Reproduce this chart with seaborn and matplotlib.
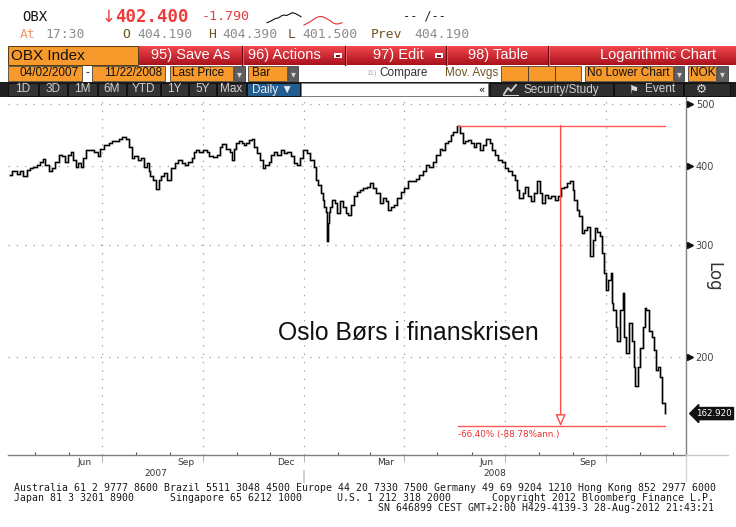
import numpy as np
import pandas as pd
import matplotlib
matplotlib.use("Agg")
import matplotlib.pyplot as plt
import matplotlib.transforms as mtransforms
import matplotlib.ticker as mticker
import matplotlib.dates as mdates
from matplotlib.patches import Rectangle
from matplotlib.lines import Line2D
import seaborn as sns

# ---------------- data ----------------
price_dates = [
    "2007-04-08", "2007-04-13", "2007-04-16", "2007-04-19", "2007-04-22", "2007-04-25", "2007-04-28",
    "2007-05-01", "2007-05-04", "2007-05-07", "2007-05-09", "2007-05-12", "2007-05-15", "2007-05-18",
    "2007-05-21", "2007-05-24", "2007-05-27", "2007-05-30", "2007-06-02", "2007-06-04", "2007-06-06",
    "2007-06-08", "2007-06-11", "2007-06-13", "2007-06-15", "2007-06-17", "2007-06-21", "2007-06-26",
    "2007-06-28", "2007-06-30", "2007-07-05", "2007-07-09", "2007-07-12", "2007-07-15", "2007-07-18",
    "2007-07-21", "2007-07-24", "2007-07-27", "2007-07-29", "2007-08-01", "2007-08-04", "2007-08-07",
    "2007-08-09", "2007-08-12", "2007-08-13", "2007-08-15", "2007-08-18", "2007-08-21", "2007-08-23",
    "2007-08-25", "2007-08-28", "2007-08-31", "2007-09-04", "2007-09-07", "2007-09-10", "2007-09-13",
    "2007-09-16", "2007-09-19", "2007-09-22", "2007-09-23", "2007-09-26", "2007-09-29", "2007-10-03",
    "2007-10-05", "2007-10-08", "2007-10-12", "2007-10-15", "2007-10-17", "2007-10-20", "2007-10-24",
    "2007-10-26", "2007-10-28", "2007-10-30", "2007-11-01", "2007-11-04", "2007-11-06", "2007-11-08",
    "2007-11-10", "2007-11-13", "2007-11-15", "2007-11-17", "2007-11-20", "2007-11-23", "2007-11-25",
    "2007-11-28", "2007-12-01", "2007-12-03", "2007-12-06", "2007-12-09", "2007-12-12", "2007-12-15",
    "2007-12-18", "2007-12-21", "2007-12-24", "2007-12-27", "2007-12-29",
    "2008-01-02", "2008-01-05", "2008-01-08", "2008-01-11", "2008-01-12", "2008-01-15", "2008-01-17",
    "2008-01-18", "2008-01-20", "2008-01-21", "2008-01-22", "2008-01-23", "2008-01-24", "2008-01-25",
    "2008-01-27", "2008-01-30", "2008-02-01", "2008-02-04", "2008-02-07", "2008-02-09", "2008-02-11",
    "2008-02-14", "2008-02-16", "2008-02-19", "2008-02-22", "2008-02-25", "2008-02-28", "2008-03-02",
    "2008-03-05", "2008-03-08", "2008-03-11", "2008-03-14", "2008-03-16", "2008-03-18", "2008-03-21",
    "2008-03-24", "2008-03-27", "2008-03-30", "2008-04-03", "2008-04-06", "2008-04-10", "2008-04-13",
    "2008-04-16", "2008-04-19", "2008-04-22", "2008-04-25", "2008-04-28", "2008-05-02", "2008-05-04",
    "2008-05-06", "2008-05-09", "2008-05-12", "2008-05-14", "2008-05-17", "2008-05-20", "2008-05-23",
    "2008-05-25", "2008-05-27", "2008-05-30", "2008-06-02", "2008-06-04", "2008-06-07", "2008-06-10",
    "2008-06-13", "2008-06-16", "2008-06-19", "2008-06-21", "2008-06-24", "2008-06-27", "2008-06-30",
    "2008-07-03", "2008-07-06", "2008-07-09", "2008-07-12", "2008-07-13", "2008-07-16", "2008-07-19",
    "2008-07-21", "2008-07-24", "2008-07-26", "2008-07-29", "2008-08-01", "2008-08-03", "2008-08-05",
    "2008-08-08", "2008-08-11", "2008-08-14", "2008-08-17", "2008-08-20", "2008-08-23", "2008-08-26",
    "2008-08-28", "2008-08-31", "2008-09-02", "2008-09-03", "2008-09-06", "2008-09-08", "2008-09-10",
    "2008-09-13", "2008-09-15", "2008-09-18", "2008-09-20", "2008-09-22", "2008-09-25", "2008-09-27",
    "2008-09-29", "2008-09-30", "2008-10-02", "2008-10-05", "2008-10-06", "2008-10-07", "2008-10-09",
    "2008-10-11", "2008-10-12", "2008-10-16", "2008-10-17", "2008-10-18", "2008-10-21", "2008-10-23",
    "2008-10-26", "2008-10-27", "2008-10-29", "2008-11-01", "2008-11-02", "2008-11-05", "2008-11-06",
    "2008-11-07", "2008-11-12", "2008-11-13", "2008-11-15", "2008-11-17", "2008-11-18", "2008-11-20",
    "2008-11-23", "2008-11-24",
]
price_values = [
    387, 392, 389, 393, 386, 394, 397,
    399, 401, 406, 410, 401, 392, 397,
    406, 416, 414, 406, 416, 420, 409,
    399, 404, 399, 411, 424, 424, 420,
    414, 426, 432, 434, 437, 438, 441,
    444, 441, 429, 411, 414, 409, 411,
    399, 404, 392, 385, 380, 368, 380,
    385, 390, 380, 397, 404, 409, 404,
    401, 406, 411, 421, 423, 421, 424,
    421, 414, 413, 416, 429, 433, 426,
    421, 409, 426, 434, 438, 435, 432,
    435, 440, 441, 429, 419, 409, 397,
    401, 406, 416, 421, 416, 424, 419,
    420, 414, 404, 401, 411,
    424, 419, 409, 399, 380, 373, 362,
    354, 345, 338, 305, 325, 338, 345,
    354, 350, 337, 352, 345, 337, 335,
    347, 358, 364, 367, 369, 371, 376,
    369, 362, 350, 356, 352, 341, 345,
    347, 356, 364, 369, 378, 378, 382,
    387, 392, 402, 399, 406, 416, 426,
    424, 434, 437, 448, 453, 463, 450,
    434, 437, 440, 434, 429, 434, 424,
    432, 441, 434, 424, 416, 409, 406,
    397, 392, 387, 380, 367, 356, 362,
    371, 358, 352, 362, 378, 362, 350,
    360, 356, 358, 354, 358, 369, 371,
    376, 378, 367, 354, 341, 333, 314,
    317, 321, 288, 306, 319, 315, 310,
    292, 271, 255, 264, 271, 243, 237,
    223, 212, 237, 252, 215, 203, 226,
    212, 193, 180, 193, 207, 223, 239,
    237, 220, 215, 205, 191, 193, 186,
    169, 163,
]

peak_date = "2008-05-20"
peak_value = 463.0
trough_value = 155.6
end_date = "2008-11-24"
measure_date = "2008-08-21"
change_label = "-66.40% (-88.78%ann.)"
last_price = 162.92
last_price_label = "162.920"
chart_title = "Oslo Børs i finanskrisen"

y_ticks = [200, 300, 400, 500]
quarter_starts = ["2007-07-01", "2007-10-01", "2008-01-01", "2008-04-01", "2008-07-01", "2008-10-01"]
month_labels = ["Jun", "Sep", "Dec", "Mar", "Jun", "Sep"]
month_label_dates = ["2007-06-15", "2007-09-15", "2007-12-15", "2008-03-15", "2008-06-15", "2008-09-15"]
year_labels = ["2007", "2008"]
year_start_2008 = "2008-01-01"
x_start, x_end = "2007-04-06 12:00", "2008-12-13"

spark_black = [7.3, 8.5, 10.0, 11.5, 12.0, 14.0, 15.0, 14.5, 16.0, 17.3, 16.5, 15.0, 13.3]
spark_red = [5.0, 6.5, 8.0, 10.0, 12.0, 13.3, 13.5, 12.5, 11.0, 9.3, 7.0, 6.0, 6.2, 7.3]

# ---------------- figure helpers (pixel layout of the screen) ----------------
W, H = 736, 527
fig = plt.figure(figsize=(W / 100, H / 100), dpi=100)
fig.patch.set_facecolor("white")

def fx(x):
    return x / W

def fy(y):
    return 1 - y / H

def rect(x0, y0, x1, y1, fc, ec="none", lw=0.0, z=1, aa=True):
    fig.add_artist(Rectangle((fx(x0), fy(y1)), fx(x1) - fx(x0), fy(y0) - fy(y1),
                             transform=fig.transFigure, fc=fc, ec=ec, lw=lw, zorder=z,
                             antialiased=aa))

def txt(x, y, s, **kw):
    kw.setdefault("va", "center")
    fig.text(fx(x), fy(y), s, **kw)

def hline(x0, x1, y, color, lw=1.0, z=3):
    fig.add_artist(Line2D([fx(x0), fx(x1)], [fy(y), fy(y)], transform=fig.transFigure,
                          color=color, lw=lw, zorder=z))

def vline(x, y0, y1, color, lw=1.0, z=3):
    fig.add_artist(Line2D([fx(x), fx(x)], [fy(y0), fy(y1)], transform=fig.transFigure,
                          color=color, lw=lw, zorder=z))

MONO = "DejaVu Sans Mono"
SANS = ["Liberation Sans", "DejaVu Sans"]
RED = "#EE3B3B"
ORANGE = "#F8992C"

# ---------------- header: quote lines ----------------
txt(22, 17, "OBX", family=MONO, fontsize=10, color="#111111")
txt(102, 17, "↓", family="DejaVu Sans", fontsize=12, color=RED)
txt(115, 17, "402.400", family=MONO, fontsize=12.5, color=RED, fontweight="bold")
txt(202, 17, "-1.790", family=MONO, fontsize=9.6, color=RED)
txt(403, 16, "-- /--", family=MONO, fontsize=8.6, color="#222222")

txt(20, 35, "At", family=MONO, fontsize=9.4, color="#F39A6A")
txt(45, 35, "17:30", family=MONO, fontsize=9.4, color="#8C8C8C")
for lab, xl, val, xv in [("O", 122, "404.190", 137), ("H", 208, "404.390", 222),
                         ("L", 288, "401.500", 302), ("Prev", 371, "404.190", 414)]:
    txt(xl, 35, lab, family=MONO, fontsize=9.4, color="#6E5320")
    txt(xv, 35, val, family=MONO, fontsize=9.4, color="#8C8C8C")

# sparkline
axs = fig.add_axes([fx(266), fy(27), fx(345) - fx(266), fy(8) - fy(27)])
sns.lineplot(x=np.arange(len(spark_black)) * 2.83, y=spark_black, ax=axs, color="#111111", lw=0.8)
sns.lineplot(x=37 + np.arange(len(spark_red)) * 2.92, y=spark_red, ax=axs, color="#E53030", lw=0.8)
axs.set_xlim(-1, 78)
axs.set_ylim(3, 22)
axs.axis("off")

# ---------------- toolbar row 1 ----------------
rect(8, 46, 138, 65, ORANGE, ec="#3a2400", lw=0.6, z=2)
txt(11, 55.5, "OBX Index", family=SANS, fontsize=11, color="#111111", zorder=5)
ct = np.array(matplotlib.colors.to_rgb("#F0464E"))
cb = np.array(matplotlib.colors.to_rgb("#A9121C"))
for i in range(19):
    t = i / 18
    rect(139, 46 + i, 736, 47.1 + i, tuple(ct * (1 - t) + cb * t), z=2, aa=False)
for xs in [242, 345, 446, 548]:
    vline(xs, 46, 65, "#6A0610", lw=0.8)
    vline(xs + 1, 46, 65, "#F07A82", lw=0.5)
txt(191, 55.5, "95) Save As", family=SANS, fontsize=10.5, color="white", ha="center", zorder=5)
txt(248, 55.5, "96) Actions", family=SANS, fontsize=10.5, color="white", zorder=5)
rect(334, 53, 342, 58, "white", z=4)
rect(336, 54.5, 340, 56.5, "#7a1018", z=5)
txt(373, 55.5, "97) Edit", family=SANS, fontsize=10.5, color="white", zorder=5)
rect(435, 53, 443, 58, "white", z=4)
rect(437, 54.5, 441, 56.5, "#7a1018", z=5)
txt(498, 55.5, "98) Table", family=SANS, fontsize=10.5, color="white", ha="center", zorder=5)
txt(716, 55.5, "Logarithmic Chart", family=SANS, fontsize=10.5, color="white", ha="right", zorder=5)

# ---------------- toolbar row 2 ----------------
def field(x0, x1, label, tx=None, color="#111111", size=8.5):
    rect(x0, 66, x1, 81, ORANGE, ec="#2a2a2a", lw=0.5, z=2)
    if label:
        txt(tx if tx is not None else x0 + 3, 73.5, label, family=SANS, fontsize=size,
            color=color, zorder=5)

def dropdown(x0, x1):
    rect(x0, 66, x1, 81, "#5E5E5E", ec="#2a2a2a", lw=0.5, z=2)
    txt((x0 + x1) / 2, 74, "▾", family="DejaVu Sans", fontsize=7, color="#D8D8D8",
        ha="center", zorder=5)

field(8, 82, "04/02/2007", tx=20)
txt(86, 73.5, "-", family=SANS, fontsize=8.5, color="#111111")
field(92, 165, "11/22/2008", tx=104)
field(170, 233, "Last Price", tx=172)
dropdown(234, 245)
field(248, 287, "Bar", tx=252)
dropdown(288, 298)
txt(366, 73.5, "11)", family=SANS, fontsize=5.5, color="#B0B0B0")
txt(379, 73.5, "Compare", family=SANS, fontsize=8.5, color="#333333")
txt(445, 73.5, "Mov. Avgs", family=SANS, fontsize=8.5, color="#6E5320")
field(501, 528, "")
field(528, 555, "")
field(555, 581, "")
field(585, 673, "No Lower Chart", tx=587)
dropdown(674, 684)
field(688, 716, "NOK", tx=690)
dropdown(717, 728)

# ---------------- toolbar row 3 ----------------
rect(0, 82, 736, 97, "#1E1E1E", z=1)
for lab, x0, x1 in [("1D", 8, 38), ("3D", 39, 67), ("1M", 68, 97), ("6M", 98, 126),
                    ("YTD", 127, 160), ("1Y", 161, 188), ("5Y", 189, 216), ("Max", 217, 246)]:
    rect(x0, 83, x1, 96, "#333333", ec="#0E0E0E", lw=0.6, z=2)
    txt((x0 + x1) / 2, 89.5, lab, family=SANS, fontsize=8.5, color="#CFCFCF", ha="center", zorder=5)
rect(247, 83, 300, 96, "#235C8E", ec="#0E0E0E", lw=0.6, z=2)
txt(252, 89.5, "Daily ▼", family=SANS, fontsize=8.5, color="#E6EEF6", zorder=5)
rect(301, 83, 488, 96, "white", ec="#777777", lw=0.5, z=2)
txt(481, 89.5, "«", family="DejaVu Sans", fontsize=7.5, color="#111111", ha="center", zorder=5)
rect(490, 83, 613, 96, "#2E2E2E", ec="#0E0E0E", lw=0.6, z=2)
fig.add_artist(Line2D([fx(504), fx(508), fx(511), fx(516)], [fy(94), fy(88), fy(91), fy(85)],
                      transform=fig.transFigure, color="#D0D0D0", lw=1.3, zorder=5))
hline(503, 518, 94.5, "#D0D0D0", lw=0.8, z=5)
txt(524, 89.5, "Security/Study", family=SANS, fontsize=8.5, color="#CFCFCF", zorder=5)
rect(614, 83, 683, 96, "#2E2E2E", ec="#0E0E0E", lw=0.6, z=2)
txt(628, 89.5, "⚑", family="DejaVu Sans", fontsize=8, color="#D8D8D8", zorder=5)
txt(645, 89.5, "Event", family=SANS, fontsize=8.5, color="#CFCFCF", zorder=5)
rect(684, 83, 730, 96, "#2E2E2E", ec="#0E0E0E", lw=0.6, z=2)
txt(701, 89.5, "⚙", family="DejaVu Sans", fontsize=9, color="#D8D8D8", ha="center", zorder=5)

# ---------------- main chart ----------------
ax = fig.add_axes([fx(8), fy(455), fx(686) - fx(8), fy(97) - fy(455)])
ax.set_facecolor("white")
dates = pd.to_datetime(price_dates)
sns.lineplot(x=dates, y=price_values, ax=ax, color="#A0A0A0", lw=1.9,
             drawstyle="steps-mid", estimator=None, zorder=3)
sns.lineplot(x=dates, y=price_values, ax=ax, color="#000000", lw=0.8,
             drawstyle="steps-mid", estimator=None, zorder=4)
ax.set_xlabel("")
ax.set_ylabel("")
ax.set_yscale("log")
ax.set_ylim(140.2, 513.5)
ax.set_xlim(pd.Timestamp(x_start), pd.Timestamp(x_end))

# y axis on right
ax.yaxis.tick_right()
ax.set_yticks(y_ticks)
ax.yaxis.set_major_formatter(mticker.FuncFormatter(lambda v, p: f"{v:.0f}"))
ax.yaxis.set_minor_locator(mticker.NullLocator())
ax.yaxis.set_minor_formatter(mticker.NullFormatter())
ax.tick_params(axis="y", which="major", length=0, pad=7, labelsize=7, labelcolor="#444444")
tri_tr = ax.get_yaxis_transform() + mtransforms.ScaledTranslation(3.5 / 100, 0, fig.dpi_scale_trans)
ax.plot([1.0] * len(y_ticks), y_ticks, ls="none", marker=">", ms=4, color="#111111",
        transform=tri_tr, clip_on=False, zorder=6)

# x axis
q_num = [mdates.date2num(pd.Timestamp(d)) for d in quarter_starts]
ax.xaxis.set_major_locator(mticker.FixedLocator(q_num))
ax.xaxis.set_major_formatter(mticker.NullFormatter())
ax.xaxis.set_minor_locator(mdates.MonthLocator())
ax.xaxis.set_minor_formatter(mticker.NullFormatter())
ax.tick_params(axis="x", which="major", length=5, width=0.6, color="#A8A8A8", direction="out")
ax.tick_params(axis="x", which="minor", length=2.5, width=0.8, color="#555555", direction="in")
for lab, d in zip(month_labels, month_label_dates):
    ax.text(pd.Timestamp(d), -0.022, lab, transform=ax.get_xaxis_transform(), ha="center",
            va="center", fontsize=6.5, color="#333333", family="DejaVu Sans")
t0, t1, tm = pd.Timestamp(x_start), pd.Timestamp(x_end), pd.Timestamp(year_start_2008)
for lab, d in zip(year_labels, [t0 + (tm - t0) / 2, tm + (t1 - tm) / 2]):
    ax.text(d, -0.053, lab, transform=ax.get_xaxis_transform(), ha="center",
            va="center", fontsize=6.5, color="#333333", family="DejaVu Sans")
ax.plot([tm, tm], [-0.045, -0.075], transform=ax.get_xaxis_transform(), color="#C8C8C8",
        lw=1.2, clip_on=False)

# grid
ax.grid(True, which="major", axis="both", color="#9C9C9C", lw=0.85, linestyle=(0, (1.1, 6.0)))
ax.set_axisbelow(True)

for s in ["left", "top"]:
    ax.spines[s].set_visible(False)
ax.spines["bottom"].set_color("#808080")
ax.spines["right"].set_color("#808080")
ax.spines["bottom"].set_linewidth(1.0)
ax.spines["right"].set_linewidth(1.0)
hline(686, 728, 455, "#C8C8C8", lw=1.0)
vline(686, 455, 481, "#D4D4D4", lw=1.0)

# red drawdown measurement
pk, en, ms = pd.Timestamp(peak_date), pd.Timestamp(end_date), pd.Timestamp(measure_date)
ax.plot([pk, en], [peak_value, peak_value], color="#FF5A5A", lw=1.0, zorder=5)
ax.plot([pk, en], [trough_value, trough_value], color="#FF5A5A", lw=1.0, zorder=5)
ax.annotate("", xy=(ms, trough_value), xytext=(ms, peak_value),
            arrowprops=dict(arrowstyle="-|>,head_length=0.7,head_width=0.3", ec="#FF4A4A",
                            fc="white", lw=1.0, shrinkA=0, shrinkB=0), zorder=5)
ax.annotate(change_label, xy=(pk, trough_value), xytext=(0, -2.5), textcoords="offset points",
            ha="left", va="top", fontsize=6.3, color="#E83232", family="DejaVu Sans")

# last price tag
ax.text(1.015, last_price, last_price_label,
        transform=ax.get_yaxis_transform(), ha="left", va="center", fontsize=6.3,
        color="white", family="DejaVu Sans",
        bbox=dict(boxstyle="larrow,pad=0.18", fc="#111111", ec="#111111"), clip_on=False)

# chart title text
ax.text(0.590, 0.321, chart_title, transform=ax.transAxes, ha="center", va="baseline",
        fontsize=17.8, color="#111111", family=SANS)

# Log label
txt(713, 277, "Log", family="DejaVu Sans", fontsize=12, color="#333333", rotation=270, ha="center")

# ---------------- footer ----------------
FOOT = dict(family=MONO, fontsize=7.15, color="#1A1A1A")
txt(14, 488, "Australia 61 2 9777 8600 Brazil 5511 3048 4500 Europe 44 20 7330 7500 "
             "Germany 49 69 9204 1210 Hong Kong 852 2977 6000", **FOOT)
txt(14, 498, "Japan 81 3 3201 8900", **FOOT)
txt(170, 498, "Singapore 65 6212 1000", **FOOT)
txt(337, 498, "U.S. 1 212 318 2000", **FOOT)
txt(714, 498, "Copyright 2012 Bloomberg Finance L.P.", ha="right", **FOOT)
txt(714, 508, "SN 646899 CEST GMT+2:00 H429-4139-3 28-Aug-2012 21:43:21", ha="right", **FOOT)

fig.savefig("out.png", dpi=100, facecolor="white")
